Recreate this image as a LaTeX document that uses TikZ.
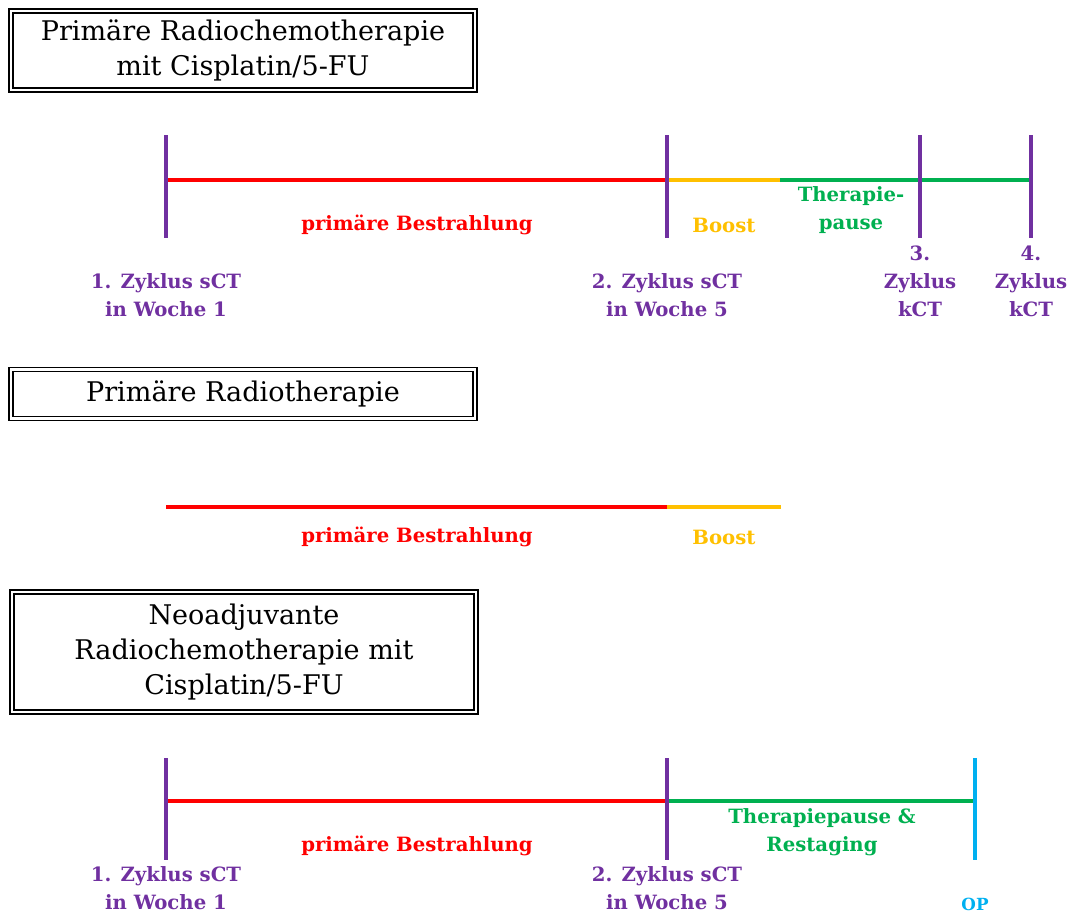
\documentclass[tikz,border=0pt]{standalone}
\usepackage{fontspec}
\setmainfont{DejaVu Serif}
\usetikzlibrary{positioning}
\definecolor{lila}{HTML}{7030A0}
\definecolor{rot}{HTML}{FF0000}
\definecolor{gelb}{HTML}{FFC000}
\definecolor{gruen}{HTML}{00B050}
\definecolor{blau}{HTML}{00B0F0}
\begin{document}
\begin{tikzpicture}[x=0.02cm, y=-0.02cm,
  titel/.style={rectangle, draw=black, double, line width=0.8pt,
                double distance=1.6pt, minimum width=9.28cm, align=center,
                inner sep=0pt, font=\fontsize{15.4}{20}\selectfont},
  tick/.style={lila, line width=2.3pt},
  bar/.style={line width=2.3pt},
  lbl/.style={font=\fontsize{11.2}{16}\selectfont\bfseries, align=center,
              inner sep=0pt}
]
\useasboundingbox (0,0) rectangle (1072,913);
%% Titel
\node[titel, minimum height=1.58cm] (t1) at (243,50.5)
  {Primäre Radiochemotherapie\\mit Cisplatin/5-FU};
\node[titel, minimum height=0.98cm] (t2) at (243,394) {Primäre Radiotherapie};
\node[titel, minimum height=2.4cm] (t3) at (244,652)
  {Neoadjuvante\\Radiochemotherapie mit\\Cisplatin/5-FU};
%% Zeitachse 1
\coordinate (a1o) at (166,135); \coordinate (a1m) at (166,180); \coordinate (a1u) at (166,238);
\coordinate (b1o) at (667,135); \coordinate (b1m) at (667,180); \coordinate (b1u) at (667,238);
\coordinate (e1m) at (780,180);
\coordinate (c1o) at (920,135); \coordinate (c1m) at (920,180); \coordinate (c1u) at (920,238);
\coordinate (d1o) at (1031,135); \coordinate (d1m) at (1031,180); \coordinate (d1u) at (1031,238);
\draw[bar, rot] (a1m) -- (b1m);
\draw[bar, gelb] (b1m) -- (e1m);
\draw[bar, gruen] (e1m) -- (d1m);
\draw[tick] (a1o) -- (a1u);
\draw[tick] (b1o) -- (b1u);
\draw[tick] (c1o) -- (c1u);
\draw[tick] (d1o) -- (d1u);
\node[lbl, rot] (bs1) at (417,225) {primäre Bestrahlung};
\node[lbl, gelb] (bo1) at (724,225) {Boost};
\node[lbl, gruen] (tp1) at (851,210) {Therapie-\\pause};
\node[lbl, lila] (z11) at (166,295) {1. Zyklus sCT\\in Woche 1};
\node[lbl, lila] (z21) at (667,295) {2. Zyklus sCT\\in Woche 5};
\node[lbl, lila] (z31) at (920,281) {3.\\Zyklus\\kCT};
\node[lbl, lila] (z41) at (1031,281) {4.\\Zyklus\\kCT};
%% Zeitachse 2
\coordinate (a2m) at (166,507); \coordinate (b2m) at (667,507); \coordinate (e2m) at (781,507);
\draw[bar, rot] (a2m) -- (b2m);
\draw[bar, gelb] (b2m) -- (e2m);
\node[lbl, rot] (bs2) at (417,537) {primäre Bestrahlung};
\node[lbl, gelb] (bo2) at (724,537) {Boost};
%% Zeitachse 3
\coordinate (a3o) at (166,758); \coordinate (a3m) at (166,801); \coordinate (a3u) at (166,860);
\coordinate (b3o) at (667,758); \coordinate (b3m) at (667,801); \coordinate (b3u) at (667,860);
\coordinate (op3o) at (975,758); \coordinate (op3m) at (975,801); \coordinate (op3u) at (975,860);
\draw[bar, rot] (a3m) -- (b3m);
\draw[bar, gruen] (b3m) -- (op3m);
\draw[tick] (a3o) -- (a3u);
\draw[tick] (b3o) -- (b3u);
\draw[tick, blau] (op3o) -- (op3u);
\node[lbl, rot] (bs3) at (417,846) {primäre Bestrahlung};
\node[lbl, gruen] (tp3) at (822,832) {Therapiepause \&\\Restaging};
\node[lbl, lila] (z13) at (166,888) {1. Zyklus sCT\\in Woche 1};
\node[lbl, lila] (z23) at (667,888) {2. Zyklus sCT\\in Woche 5};
\node[lbl, blau, font=\fontsize{9.5}{12}\selectfont\bfseries] (op) at (975,904) {OP};
\end{tikzpicture}
\end{document}
